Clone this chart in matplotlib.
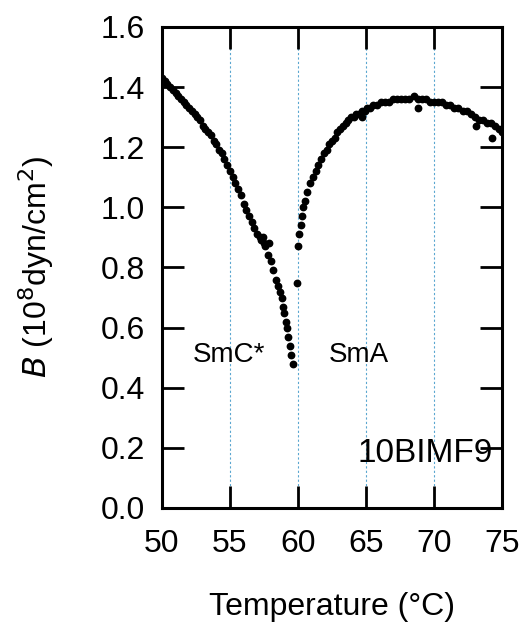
import matplotlib.pyplot as plt

plt.rcParams['font.family'] = ['Liberation Sans', 'DejaVu Sans']

# SmC* branch
t_smc = [50.0, 50.2, 50.4, 50.6, 50.8, 51.0, 51.2, 51.4, 51.6, 51.8, 52.0, 52.2,
         52.4, 52.6, 52.8, 53.0, 53.2, 53.4, 53.6, 53.8, 54.0, 54.2, 54.4, 54.6,
         54.8, 55.0, 55.2, 55.4, 55.6, 55.8, 56.0, 56.2, 56.4, 56.6, 56.8, 57.0,
         57.2, 57.3, 57.4, 57.5, 57.6, 57.8, 58.0, 58.2, 58.4, 58.5, 58.7, 58.8,
         58.9, 59.0, 59.1, 59.2, 59.3, 59.4, 59.5, 59.6]
b_smc = [1.43, 1.42, 1.41, 1.40, 1.39, 1.38, 1.37, 1.36, 1.35, 1.34, 1.33, 1.32,
         1.31, 1.30, 1.29, 1.27, 1.26, 1.25, 1.24, 1.22, 1.21, 1.19, 1.18, 1.16,
         1.14, 1.12, 1.10, 1.08, 1.06, 1.04, 1.01, 0.99, 0.97, 0.95, 0.93, 0.91,
         0.90, 0.89, 0.90, 0.88, 0.87, 0.84, 0.82, 0.79, 0.76, 0.74, 0.72, 0.70,
         0.67, 0.65, 0.62, 0.60, 0.57, 0.54, 0.51, 0.48]

# SmA branch
t_sma = [59.9, 60.0, 60.1, 60.2, 60.3, 60.4, 60.5, 60.7, 60.9, 61.1, 61.3, 61.5,
         61.7, 61.9, 62.1, 62.3, 62.5, 62.7, 62.9, 63.1, 63.3, 63.5, 63.7, 63.9,
         64.1, 64.3, 64.5, 64.7, 64.9, 65.1, 65.3, 65.5, 65.8, 66.1, 66.4, 66.7,
         67.0, 67.3, 67.6, 67.9, 68.2, 68.5, 68.8, 69.1, 69.4, 69.7, 70.0, 70.3,
         70.6, 70.9, 71.2, 71.5, 71.8, 72.1, 72.4, 72.7, 73.0, 73.3, 73.6, 73.9,
         74.2, 74.5, 74.8, 75.0]
b_sma = [0.75, 0.87, 0.91, 0.94, 0.97, 1.00, 1.02, 1.05, 1.08, 1.10, 1.12, 1.14,
         1.16, 1.18, 1.19, 1.21, 1.22, 1.23, 1.25, 1.26, 1.27, 1.28, 1.29, 1.30,
         1.30, 1.31, 1.31, 1.32, 1.32, 1.33, 1.33, 1.34, 1.34, 1.35, 1.35, 1.35,
         1.36, 1.36, 1.36, 1.36, 1.36, 1.37, 1.36, 1.36, 1.36, 1.35, 1.35, 1.35,
         1.35, 1.34, 1.34, 1.33, 1.33, 1.32, 1.32, 1.31, 1.30, 1.29, 1.29, 1.28,
         1.28, 1.27, 1.26, 1.25]

# a few scattered points
t_out = [64.7, 68.8, 73.1, 74.3, 57.9]
b_out = [1.30, 1.33, 1.27, 1.23, 0.88]

phase_lines = [55, 60, 65, 70]

fig = plt.figure(figsize=(5.24, 6.23), dpi=100)
ax = fig.add_axes([0.309, 0.1846, 0.649, 0.7721])

for x in phase_lines:
    ax.axvline(x, color='#5aa6d0', lw=0.8, ls=(0, (2, 2)), zorder=1)

ax.plot(t_smc, b_smc, 'o', color='black', ms=4.6, zorder=3)
ax.plot(t_sma, b_sma, 'o', color='black', ms=4.6, zorder=3)
ax.plot(t_out, b_out, 'o', color='black', ms=4.6, zorder=3)

ax.set_xlim(50, 75)
ax.set_ylim(0, 1.6)
ax.set_xticks([50, 55, 60, 65, 70, 75])
ax.set_yticks([0.0, 0.2, 0.4, 0.6, 0.8, 1.0, 1.2, 1.4, 1.6])
ax.set_yticklabels(['0.0', '0.2', '0.4', '0.6', '0.8', '1.0', '1.2', '1.4', '1.6'])

ax.tick_params(direction='in', length=16, width=2, labelsize=23,
               top=True, right=True)
ax.tick_params(axis='y', pad=12)
ax.tick_params(axis='x', pad=15)
for s in ax.spines.values():
    s.set_linewidth(2.2)

ax.set_xlabel('Temperature (°C)', fontsize=23, labelpad=24)
ax.set_ylabel('$B$ (10$^8$dyn/cm$^2$)', fontsize=23)
ax.yaxis.set_label_coords(-0.31, 0.5)

ax.text(54.9, 0.51, 'SmC*', fontsize=20, ha='center', va='center')
ax.text(64.5, 0.51, 'SmA', fontsize=20, ha='center', va='center')
ax.text(74.3, 0.18, '10BIMF9', fontsize=24, ha='right', va='center')

fig.savefig('out.png', dpi=100)
